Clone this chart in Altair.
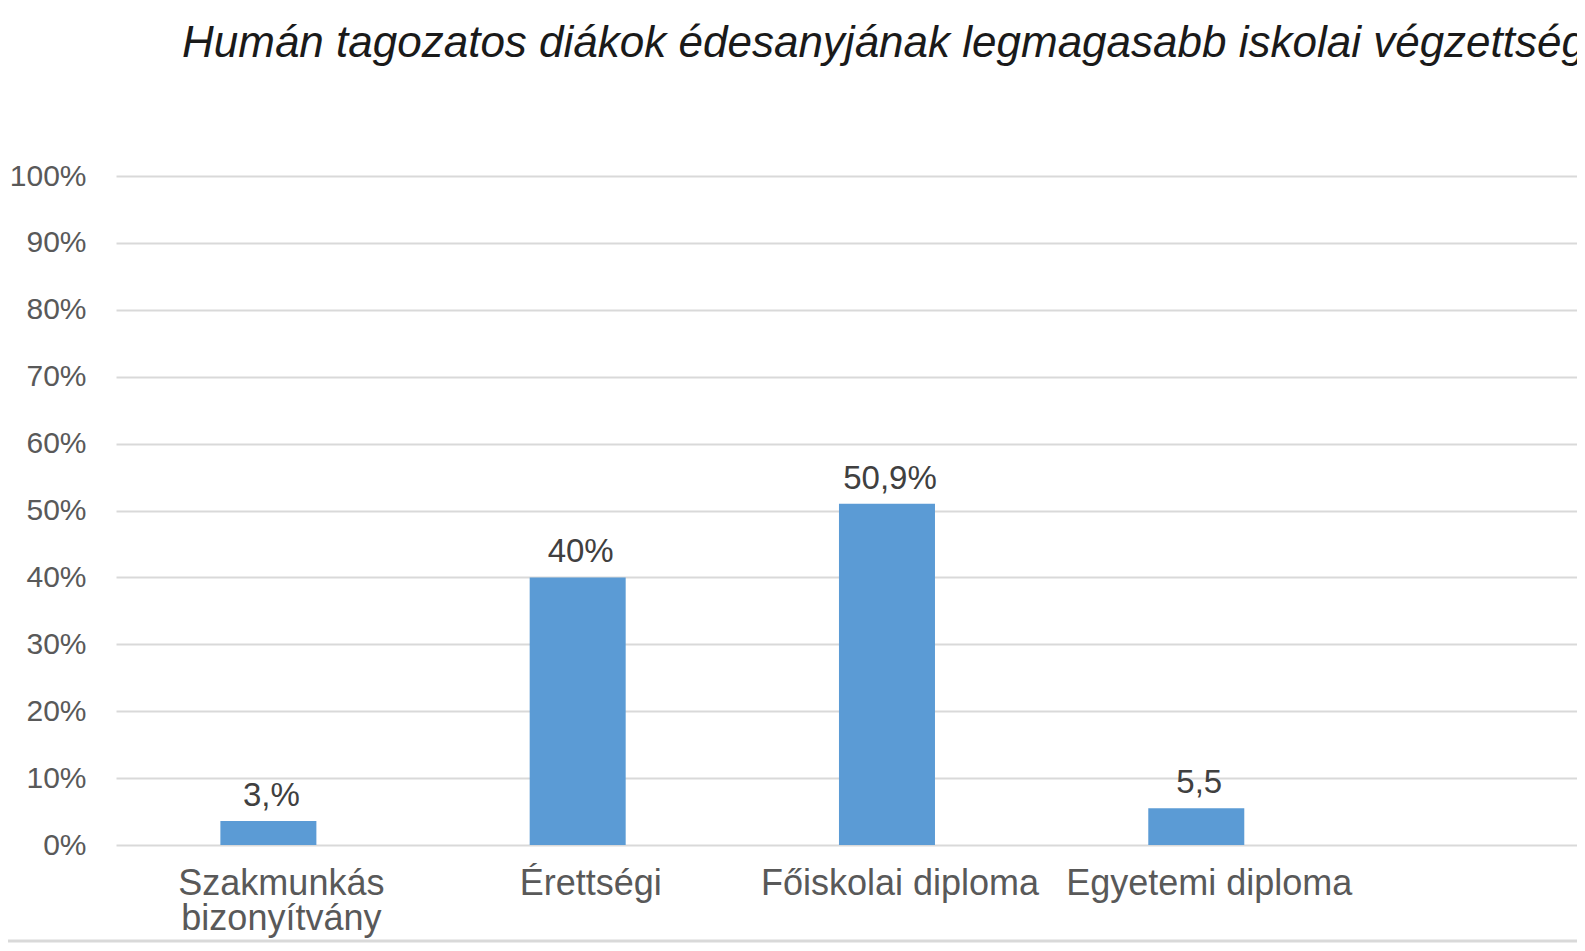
import altair as alt
import pandas as pd

categories = ["Szakmunkás bizonyítvány", "Érettségi", "Főiskolai diploma", "Egyetemi diploma"]
values = [3.6, 40.0, 51.0, 5.5]
value_labels = ["3,%", "40%", "50,9%", "5,5"]
y_ticks = [0, 10, 20, 30, 40, 50, 60, 70, 80, 90, 100]
title_text = "Humán tagozatos diákok édesanyjának legmagasabb iskolai végzettsége"

df = pd.DataFrame({"cat": categories, "val": values, "lab": value_labels})

FONT = "Liberation Sans"

x_scale = alt.Scale(paddingInner=0.6896, paddingOuter=0.7066, align=0.2388)

x = alt.X(
    "cat:N", sort=categories, scale=x_scale,
    axis=alt.Axis(
        title=None, labelAngle=0, ticks=False, domain=False,
        labelFont=FONT, labelFontSize=36, labelColor="#595959",
        labelPadding=21, labelLineHeight=35, labelOffset=13, labelLimit=0,
        labelExpr="datum.label == 'Szakmunkás bizonyítvány' ? ['Szakmunkás', 'bizonyítvány'] : datum.label",
    ),
)
y = alt.Y(
    "val:Q", scale=alt.Scale(domain=[0, 100], nice=False),
    axis=alt.Axis(
        title=None, values=y_ticks, labelExpr="datum.value + '%'",
        grid=True, gridColor="#d9d9d9", gridWidth=2, domain=False, ticks=False,
        labelPadding=30, labelFont=FONT, labelFontSize=30, labelColor="#595959",
        labelLimit=0,
    ),
)

bars = alt.Chart(df).mark_bar(color="#5b9bd5").encode(x=x, y=y)

text = alt.Chart(df).mark_text(
    font=FONT, fontSize=33, color="#404040", baseline="alphabetic", dy=-15, dx=3
).encode(x=alt.X("cat:N", sort=categories, scale=x_scale), y=alt.Y("val:Q"), text="lab:N")

bottom_line = alt.Chart(pd.DataFrame({"a": [0]})).mark_rule(
    color="#d9d9d9", strokeWidth=3
).encode(x=alt.value(-108), x2=alt.value(1461), y=alt.value(765))

chart = alt.layer(bars, text, bottom_line).properties(
    width=1461,
    height=669,
    padding={"left": 108, "top": 168, "right": 0, "bottom": 98},
    autosize=alt.AutoSizeParams(type="none"),
    title=alt.TitleParams(
        title_text, anchor="start", frame="group", dx=66, offset=60,
        font=FONT, fontSize=44, fontStyle="italic", fontWeight="normal",
        color="#1a1a1a", baseline="alphabetic",
    ),
).configure_view(strokeWidth=0)

chart.save("out.html", embed_options={"renderer": "svg", "actions": False})
